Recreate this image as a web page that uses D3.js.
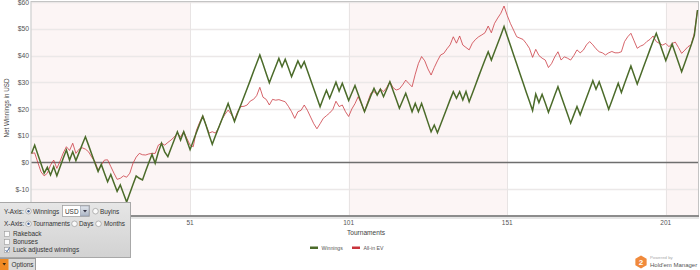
<!DOCTYPE html>
<html>
<head>
<meta charset="utf-8">
<script src="https://cdn.jsdelivr.net/npm/d3@7"></script>
<style>
  body { margin: 0; background: #fff; }
  svg { display: block; font-family: "Liberation Sans", Arial, sans-serif; }
</style>
</head>
<body>
<svg id="chart" width="700" height="270"></svg>
<script>
// Net winnings per tournament (USD)
const winnings = [
  3.4, 6.5, 3.0, -0.5, -4.0, -1.8, -4.7, -1.6, -5.0, -1.7,
  1.6, 4.7, 0.9, 4.0, 0.7, 3.7, 6.7, 9.6, 6.4, 3.1,
  -0.2, -3.4, -0.7, -4.0, -7.2, -4.5, -7.7, -10.8, -8.4, -11.6,
  -14.8, -11.5, -8.2, -5.0, -5.9, -6.5, -3.2, 0.0, 3.0, -0.3,
  3.9, 7.2, 4.0, 2.2, 5.3, 8.4, 11.5, 8.4, 11.5, 8.1,
  4.8, 8.0, 11.2, 14.3, 17.3, 14.0, 10.3, 6.8, 10.0, 13.0,
  16.0, 19.0, 22.1, 18.7, 15.3, 18.5, 21.5, 24.6, 27.7, 30.8,
  34.0, 37.1, 40.2, 36.8, 33.3, 29.8, 32.9, 35.9, 38.9, 35.8,
  38.6, 35.4, 32.1, 35.0, 38.0, 35.4, 37.7, 34.3, 30.9, 27.6,
  24.2, 20.8, 24.0, 27.0, 24.0, 27.0, 30.0, 26.7, 29.6, 26.4,
  23.2, 26.0, 28.8, 25.5, 22.2, 19.0, 22.0, 25.0, 27.7, 25.2,
  27.4, 24.6, 27.4, 30.2, 26.9, 23.6, 20.3, 23.1, 25.9, 22.5,
  19.0, 22.1, 19.0, 22.1, 18.6, 15.0, 11.5, 14.0, 11.1, 14.2,
  17.3, 20.4, 23.5, 26.5, 24.0, 26.5, 23.4, 26.5, 22.7, 25.8,
  29.0, 32.2, 35.3, 38.4, 41.4, 38.3, 41.4, 44.5, 47.6, 50.8,
  47.3, 43.8, 40.3, 36.8, 33.3, 29.8, 26.3, 22.9, 19.4, 25.6,
  22.4, 25.5, 22.2, 18.8, 22.0, 25.2, 28.3, 24.9, 21.5, 18.1,
  14.7, 17.8, 20.9, 17.8, 21.0, 24.2, 27.4, 30.6, 27.4, 30.2,
  26.8, 23.4, 19.9, 23.1, 26.4, 29.6, 26.2, 29.5, 32.8, 36.1,
  32.7, 29.3, 32.5, 35.8, 39.0, 42.2, 45.3, 48.3, 45.0, 41.5,
  38.1, 41.2, 44.3, 40.8, 37.4, 33.9, 37.2, 40.6, 43.9, 47.5,
  57.0
];

// All-in EV per tournament (USD)
const allInEV = [
  3.4, 3.6, 0.0, -3.5, -5.0, -4.0, -1.0, 0.9, -2.2, 0.5,
  3.5, 5.9, 4.5, 7.2, 3.4, 5.0, 5.5, 5.0, 4.0, 2.0,
  0.3, -2.8, -1.0, 0.9, 1.0, -1.5, -4.0, -6.3, -5.9, -5.0,
  -5.5, -4.0, -0.3, 2.0, 3.4, 2.9, 2.8, 3.2, 3.4, 3.4,
  6.5, 7.2, 6.5, 7.5, 8.4, 9.5, 10.9, 9.6, 11.5, 9.0,
  6.5, 5.9, 12.0, 15.0, 17.5, 14.0, 11.0, 11.5, 11.0, 13.0,
  16.0, 18.0, 19.6, 18.0, 15.9, 19.0, 20.9, 21.0, 21.5, 23.0,
  23.6, 25.0, 28.1, 24.4, 23.6, 21.5, 23.6, 23.3, 23.5, 23.1,
  22.7, 21.0, 19.0, 16.5, 19.0, 19.5, 21.5, 19.5, 17.0, 14.5,
  12.6, 14.5, 16.5, 17.5, 18.5, 19.8, 22.9, 20.9, 21.5, 19.0,
  17.2, 20.0, 22.0, 24.6, 22.0, 19.0, 22.5, 25.9, 26.5, 25.5,
  27.5, 26.5, 28.0, 30.2, 28.0, 27.1, 27.5, 29.0, 30.8, 29.5,
  28.3, 33.0, 37.0, 39.6, 38.0, 35.0, 32.7, 35.5, 38.0, 40.2,
  40.8, 42.5, 44.0, 47.0, 44.6, 47.3, 43.9, 43.0, 42.1, 44.6,
  46.0, 47.0, 47.7, 48.5, 51.0, 48.5, 52.0, 54.0, 55.8, 58.5,
  55.0, 52.0, 49.5, 47.0, 46.5, 46.0, 44.5, 42.7, 39.3, 42.3,
  40.0, 39.0, 38.3, 35.5, 37.0, 39.5, 41.4, 38.3, 39.5, 39.0,
  38.3, 40.0, 42.1, 41.0, 42.0, 44.0, 45.2, 44.0, 42.5, 41.4,
  41.0, 40.2, 41.0, 41.5, 41.0, 41.0, 41.4, 45.2, 47.0, 48.3,
  45.5, 42.7, 43.5, 44.0, 45.2, 46.0, 47.3, 45.2, 44.5, 43.9,
  44.5, 43.3, 44.5, 45.0, 43.0, 40.8, 42.0, 43.3, 44.0, 48.3,
  57.0
];

const xTicks = [1, 51, 101, 151, 201];
const yTicks = [-10, 0, 10, 20, 30, 40, 50, 60];
const seriesNames = ['Winnings', 'All-in EV'];
const seriesColors = ['#4b6b2a', '#c9343c'];

const svg = d3.select('#chart');
const plotLeft = 31.5, plotRight = 698, plotTop = 2, plotBottom = 216;

const x = d3.scaleLinear().domain([1, winnings.length]).range([plotLeft, plotRight - 0.5]);
const y = d3.scaleLinear().domain([-20, 60]).range([plotBottom, plotTop]);

// alternating background bands between the x ticks
const bandEdges = xTicks.concat([winnings.length]);
const bands = svg.append('g');
for (let i = 0; i < bandEdges.length - 1; i++) {
  bands.append('rect')
    .attr('x', x(bandEdges[i]))
    .attr('y', plotTop)
    .attr('width', x(bandEdges[i + 1]) - x(bandEdges[i]) + (i === bandEdges.length - 2 ? 1 : 0))
    .attr('height', plotBottom - plotTop)
    .attr('fill', i % 2 === 0 ? '#fcf5f5' : '#ffffff');
}

// grid
svg.append('g')
  .selectAll('line')
  .data(yTicks.filter(d => d !== 0))
  .join('line')
  .attr('x1', plotLeft).attr('x2', plotRight)
  .attr('y1', d => Math.round(y(d)) + 0.5).attr('y2', d => Math.round(y(d)) + 0.5)
  .attr('stroke', '#ebe8e8').attr('stroke-width', 1.3);

svg.append('g')
  .selectAll('line')
  .data(xTicks.slice(1))
  .join('line')
  .attr('x1', d => Math.round(x(d)) + 0.5).attr('x2', d => Math.round(x(d)) + 0.5)
  .attr('y1', plotTop).attr('y2', plotBottom)
  .attr('stroke', '#e8e4e4').attr('stroke-width', 1);

// frame
svg.append('rect')
  .attr('x', plotLeft - 0.5).attr('y', plotTop - 0.5)
  .attr('width', plotRight - plotLeft + 1).attr('height', plotBottom - plotTop)
  .attr('fill', 'none').attr('stroke', '#c4c4c4').attr('stroke-width', 1);

// zero line
svg.append('line')
  .attr('x1', plotLeft).attr('x2', plotRight)
  .attr('y1', y(0)).attr('y2', y(0))
  .attr('stroke', '#6e6e6e').attr('stroke-width', 1.4);

// x axis line
svg.append('line')
  .attr('x1', 0).attr('x2', plotRight + 1)
  .attr('y1', plotBottom).attr('y2', plotBottom)
  .attr('stroke', '#8c8c8c').attr('stroke-width', 2);
svg.append('line')
  .attr('x1', 0).attr('x2', plotRight + 1)
  .attr('y1', plotBottom + 2).attr('y2', plotBottom + 2)
  .attr('stroke', '#e6e6e6').attr('stroke-width', 2);

// axis labels
svg.append('g')
  .selectAll('text')
  .data(yTicks)
  .join('text')
  .attr('x', 29)
  .attr('y', d => y(d) + 2.5)
  .attr('text-anchor', 'end')
  .attr('font-size', 6.8)
  .attr('fill', '#555')
  .text(d => '$' + d);

svg.append('g')
  .selectAll('text')
  .data(xTicks)
  .join('text')
  .attr('x', d => x(d))
  .attr('y', 225)
  .attr('text-anchor', 'middle')
  .attr('font-size', 6.5)
  .attr('fill', '#555')
  .text(d => d);

svg.append('text')
  .attr('transform', 'translate(8.5,108) rotate(-90)')
  .attr('text-anchor', 'middle')
  .attr('font-size', 6.3)
  .attr('fill', '#444')
  .text('Net Winnings in USD');

svg.append('text')
  .attr('x', 366).attr('y', 234.5)
  .attr('text-anchor', 'middle')
  .attr('font-size', 6.6)
  .attr('fill', '#444')
  .text('Tournaments');

// series lines
const line = d3.line()
  .x((d, i) => x(i + 1))
  .y(d => y(d));

svg.append('path')
  .datum(allInEV)
  .attr('fill', 'none')
  .attr('stroke', seriesColors[1])
  .attr('stroke-opacity', 0.85)
  .attr('stroke-width', 0.9)
  .attr('d', line);

svg.append('path')
  .datum(winnings)
  .attr('fill', 'none')
  .attr('stroke', seriesColors[0])
  .attr('stroke-width', 1.5)
  .attr('d', line);

// legend
const legendX = [310, 352];
const legend = svg.append('g');
seriesNames.forEach((name, i) => {
  legend.append('rect')
    .attr('x', legendX[i]).attr('y', 246.5)
    .attr('width', 8).attr('height', 2.5)
    .attr('fill', seriesColors[i]);
  legend.append('text')
    .attr('x', legendX[i] + 11.5).attr('y', 249.8)
    .attr('font-size', 5.2)
    .attr('fill', '#555')
    .text(name);
});

// options panel
const defs = svg.append('defs');
const grad = defs.append('linearGradient').attr('id', 'panelGrad')
  .attr('x1', 0).attr('y1', 0).attr('x2', 0).attr('y2', 1);
grad.append('stop').attr('offset', 0).attr('stop-color', '#e6e6e6');
grad.append('stop').attr('offset', 1).attr('stop-color', '#d2d2d2');
const btnGrad = defs.append('linearGradient').attr('id', 'btnGrad')
  .attr('x1', 0).attr('y1', 0).attr('x2', 0).attr('y2', 1);
btnGrad.append('stop').attr('offset', 0).attr('stop-color', '#e4e8ee');
btnGrad.append('stop').attr('offset', 1).attr('stop-color', '#aab4c4');

const panel = svg.append('g').attr('font-size', 6.4).attr('fill', '#333');
panel.append('rect')
  .attr('x', -1).attr('y', 202.5).attr('width', 131.5).attr('height', 55)
  .attr('fill', 'url(#panelGrad)').attr('stroke', '#a8a8a8');

function radio(cx, cy, on) {
  panel.append('circle').attr('cx', cx).attr('cy', cy).attr('r', 2.8)
    .attr('fill', '#fafafa').attr('stroke', '#999').attr('stroke-width', 0.7);
  if (on) panel.append('circle').attr('cx', cx).attr('cy', cy).attr('r', 1.2).attr('fill', '#3a5a90');
}
function label(tx, ty, s) {
  panel.append('text').attr('x', tx).attr('y', ty).text(s);
}

label(4, 213.5, 'Y-Axis:');
radio(28.5, 211.2, true);
label(33, 213.5, 'Winnings');
panel.append('rect').attr('x', 62.5).attr('y', 205.5).attr('width', 27).attr('height', 11)
  .attr('fill', '#fff').attr('stroke', '#999').attr('stroke-width', 0.7);
label(65, 213.5, 'USD');
panel.append('rect').attr('x', 80.5).attr('y', 206).attr('width', 8.5).attr('height', 10)
  .attr('fill', 'url(#btnGrad)').attr('stroke', '#8890a0').attr('stroke-width', 0.5);
panel.append('path').attr('d', 'M83,210 L87,210 L85,212.5 Z').attr('fill', '#334');
radio(95.5, 211.2, false);
label(100, 213.5, 'Buyins');

label(4, 226, 'X-Axis:');
radio(28.5, 223.8, true);
label(33, 226, 'Tournaments');
radio(74.5, 223.8, false);
label(79, 226, 'Days');
radio(98.5, 223.8, false);
label(104, 226, 'Months');

const checks = [['Rakeback', false], ['Bonuses', false], ['Luck adjusted winnings', true]];
checks.forEach(([name, on], i) => {
  const cy = 234 + i * 8;
  panel.append('rect').attr('x', 4.5).attr('y', cy - 2.5).attr('width', 5).attr('height', 5)
    .attr('fill', '#fafafa').attr('stroke', '#999').attr('stroke-width', 0.6);
  if (on) panel.append('path').attr('d', `M5.5,${cy} L7,${cy + 1.8} L9.5,${cy - 2.5}`)
    .attr('fill', 'none').attr('stroke', '#3a5a90').attr('stroke-width', 0.9);
  label(13, cy + 2.3, name);
});

// options button
const btn = svg.append('g');
btn.append('rect').attr('x', -1).attr('y', 258.5).attr('width', 36.5).attr('height', 12)
  .attr('fill', '#dcdcdc').attr('stroke', '#9a9a9a');
btn.append('rect').attr('x', 0).attr('y', 259).attr('width', 8.5).attr('height', 11)
  .attr('fill', '#f08a24');
btn.append('path').attr('d', 'M2.5,263 L6,263 L4.25,265.5 Z').attr('fill', '#3a2a10');
btn.append('text').attr('x', 11.5).attr('y', 266.5).attr('font-size', 6.4).attr('fill', '#333')
  .text('Options');

// powered by logo
const logo = svg.append('g');
const hex = d3.range(6).map(k => {
  const a = Math.PI / 3 * k + Math.PI / 6;
  return [641 + 6.5 * Math.cos(a), 262 + 6.5 * Math.sin(a)];
});
logo.append('path').attr('d', 'M' + hex.join('L') + 'Z').attr('fill', '#f08a3c');
logo.append('text').attr('x', 641).attr('y', 265).attr('text-anchor', 'middle')
  .attr('font-size', 8).attr('font-weight', 'bold').attr('fill', '#fff').text('2');
logo.append('text').attr('x', 650).attr('y', 258.5).attr('font-size', 4.3).attr('fill', '#aaa')
  .text('Powered by');
logo.append('text').attr('x', 650).attr('y', 266.5).attr('font-size', 6).attr('fill', '#555')
  .text("Hold'em Manager");
</script>
</body>
</html>
